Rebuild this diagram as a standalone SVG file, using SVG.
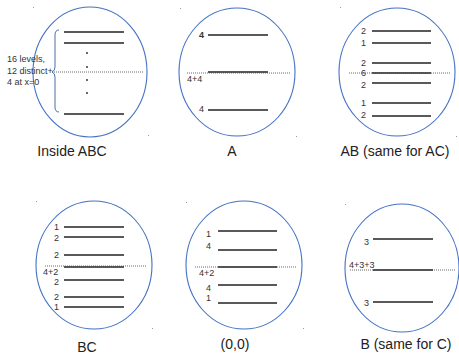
<svg xmlns="http://www.w3.org/2000/svg" width="459" height="354" viewBox="0 0 459 354">
<style>
.c{fill:none;stroke:#4472c4;stroke-width:1.1}
.l{stroke:#222;stroke-width:1.4}
.d{stroke:#444;stroke-width:0.8;stroke-dasharray:1,1}
.n{font-family:"Liberation Sans",Arial,sans-serif;font-size:9px;fill:#333}
.t{font-family:"Liberation Sans",Arial,sans-serif;font-size:14px;fill:#222;text-anchor:middle}
.p{fill:#8a9ab8}
</style>
<rect width="459" height="354" fill="#fff"/>
<g id="inside-abc">
<ellipse class="c" cx="90" cy="72" rx="57" ry="65"/>
<line class="l" x1="64" y1="32" x2="124" y2="32"/>
<line class="l" x1="64" y1="43" x2="124" y2="43"/>
<line class="l" x1="64" y1="114" x2="124" y2="114"/>
<circle cx="87" cy="53" r="0.9" fill="#222"/>
<circle cx="87" cy="67" r="0.9" fill="#222"/>
<circle cx="87" cy="80" r="0.9" fill="#222"/>
<circle cx="87" cy="93" r="0.9" fill="#222"/>
<line class="d" x1="52" y1="72" x2="143" y2="72"/>
<path d="M59 30 Q55 30 55 35 L55 67 Q55 71 52 72 Q55 73 55 77 L55 107 Q55 112 59 112" fill="none" stroke="#4a6fa5" stroke-width="1"/>
<text class="n" x="7" y="62">16 levels,</text>
<text class="n" x="7" y="73.5">12 distinct+</text>
<text class="n" x="7" y="85">4 at x=0</text>
<text class="t" x="72" y="156">Inside ABC</text>
<rect class="p" x="33" y="7" width="1" height="1"/><rect class="p" x="148" y="135" width="1" height="1"/>
</g>
<g id="a">
<ellipse class="c" cx="237" cy="72" rx="58" ry="64"/>
<line class="l" x1="208" y1="35" x2="268" y2="35"/>
<line class="l" x1="208" y1="72" x2="268" y2="72"/>
<line class="l" x1="208" y1="110" x2="268" y2="110"/>
<line class="d" x1="187" y1="73" x2="290" y2="73"/>
<text class="n" x="199" y="38" font-weight="bold">4</text>
<text class="n" x="187" y="82">4+4</text>
<text class="n" x="199" y="112">4</text>
<text class="t" x="232" y="156">A</text>
<rect class="p" x="180" y="8" width="1" height="1"/><rect class="p" x="296" y="136" width="1" height="1"/>
</g>
<g id="ab">
<ellipse class="c" cx="397" cy="72" rx="58" ry="64"/>
<line class="l" x1="372" y1="31" x2="431" y2="31"/>
<line class="l" x1="372" y1="43" x2="431" y2="43"/>
<line class="l" x1="372" y1="63" x2="431" y2="63"/>
<line class="l" x1="372" y1="73" x2="431" y2="73"/>
<line class="l" x1="372" y1="83" x2="431" y2="83"/>
<line class="l" x1="372" y1="103" x2="431" y2="103"/>
<line class="l" x1="372" y1="116" x2="431" y2="116"/>
<line class="d" x1="349" y1="73" x2="450" y2="73"/>
<text class="n" x="361" y="34">2</text>
<text class="n" x="361" y="46">1</text>
<text class="n" x="361" y="66">2</text>
<text class="n" x="361" y="76">6</text>
<text class="n" x="361" y="88">2</text>
<text class="n" x="361" y="106">1</text>
<text class="n" x="361" y="118">2</text>
<text class="t" x="395" y="156">AB (same for AC)</text>
<rect class="p" x="340" y="7" width="1" height="1"/><rect class="p" x="456" y="136" width="1" height="1"/>
</g>
<g id="bc">
<ellipse class="c" cx="94" cy="265" rx="58" ry="64"/>
<line class="l" x1="64" y1="227" x2="124" y2="227"/>
<line class="l" x1="64" y1="237" x2="124" y2="237"/>
<line class="l" x1="64" y1="255" x2="124" y2="255"/>
<line class="l" x1="64" y1="267" x2="124" y2="267"/>
<line class="l" x1="64" y1="280" x2="124" y2="280"/>
<line class="l" x1="64" y1="297" x2="124" y2="297"/>
<line class="l" x1="64" y1="307" x2="124" y2="307"/>
<line class="d" x1="45" y1="266" x2="146" y2="266"/>
<text class="n" x="54" y="230">1</text>
<text class="n" x="54" y="241">2</text>
<text class="n" x="54" y="258">2</text>
<text class="n" x="43" y="275">4+2</text>
<text class="n" x="54" y="285">2</text>
<text class="n" x="54" y="300">2</text>
<text class="n" x="54" y="310">1</text>
<text class="t" x="87" y="352">BC</text>
<rect class="p" x="36" y="201" width="1" height="1"/><rect class="p" x="152" y="328" width="1" height="1"/>
</g>
<g id="origin">
<ellipse class="c" cx="244" cy="265" rx="58" ry="64"/>
<line class="l" x1="218" y1="231" x2="277" y2="231"/>
<line class="l" x1="218" y1="250" x2="277" y2="250"/>
<line class="l" x1="218" y1="267" x2="277" y2="267"/>
<line class="l" x1="218" y1="285" x2="277" y2="285"/>
<line class="l" x1="218" y1="303" x2="277" y2="303"/>
<line class="d" x1="195" y1="267" x2="296" y2="267"/>
<text class="n" x="206" y="237">1</text>
<text class="n" x="206" y="249">4</text>
<text class="n" x="199" y="276">4+2</text>
<text class="n" x="206" y="291">4</text>
<text class="n" x="206" y="301">1</text>
<text class="t" x="235" y="349">(0,0)</text>
<rect class="p" x="186" y="202" width="1" height="1"/><rect class="p" x="303" y="328" width="1" height="1"/>
</g>
<g id="b">
<ellipse class="c" cx="402" cy="268" rx="57" ry="64"/>
<line class="l" x1="373" y1="239" x2="433" y2="239"/>
<line class="l" x1="373" y1="270" x2="433" y2="270"/>
<line class="l" x1="373" y1="302" x2="433" y2="302"/>
<line class="d" x1="350" y1="270" x2="456" y2="270"/>
<text class="n" x="364" y="245">3</text>
<text class="n" x="349" y="268">4+3+3</text>
<text class="n" x="364" y="306">3</text>
<text class="t" x="406" y="349">B (same for C)</text>
<rect class="p" x="345" y="204" width="1" height="1"/>
</g>
</svg>
